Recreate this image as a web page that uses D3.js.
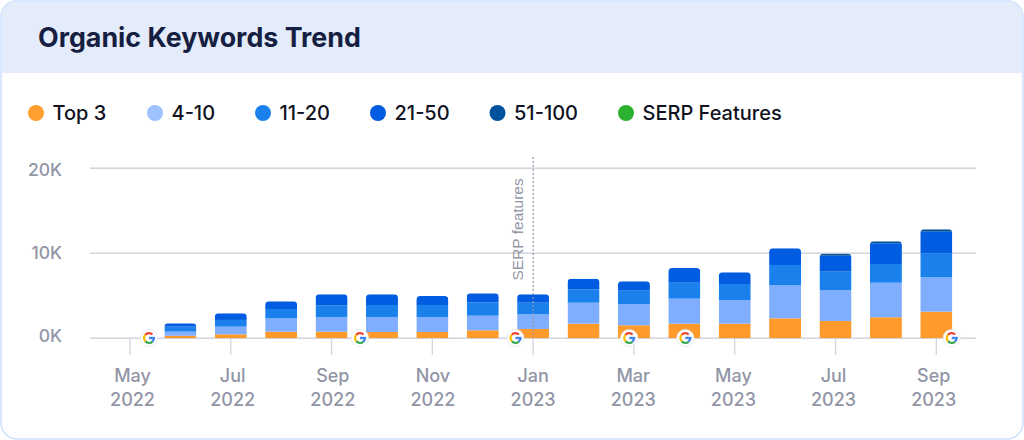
<!DOCTYPE html>
<html><head><meta charset="utf-8">
<script src="https://cdn.jsdelivr.net/npm/d3@7"></script>
<style>html,body{margin:0;padding:0;background:#fff;overflow:hidden}svg{display:block}text{font-family:Inter,"Noto Sans",sans-serif}</style>
</head><body><svg id="c" width="1024" height="440"></svg>
<script>
const months=["May 2022","Jun 2022","Jul 2022","Aug 2022","Sep 2022","Oct 2022","Nov 2022","Dec 2022","Jan 2023","Feb 2023","Mar 2023","Apr 2023","May 2023","Jun 2023","Jul 2023","Aug 2023","Sep 2023"];
const seriesNames=["Top 3","4-10","11-20","21-50","51-100"];
const top3=[0,300,470,780,780,745,745,940,1095,1720,1530,1720,1720,2350,2040,2470,3130];
const pos4to10=[0,490,900,1570,1730,1765,1765,1720,1725,2470,2505,2940,2785,3885,3610,4070,4045];
const pos11to20=[0,580,790,1100,1370,1410,1410,1575,1370,1575,1565,1880,1885,2390,2190,2200,2825];
const pos21to50=[0,390,780,900,1300,1260,1060,1055,990,1245,1105,1730,1375,1965,1880,2435,2540];
const pos51to100=[0,0,0,0,0,0,0,0,0,0,0,0,0,0,240,235,285];
const seriesValues=[top3,pos4to10,pos11to20,pos21to50,pos51to100];
const seriesColors=["#ff9a2b","#80aeff","#1a80eb","#005ce0","#00519e"];
const legendNames=[...seriesNames,"SERP Features"];
const legendColors=["#ff9f2e","#9cc2ff","#1a80eb","#005ce0","#00519e","#2bb02f"];
const legendX=[36,155,263,378,497.5,626];
const yTicks=[0,10000,20000];
const xTickMonths=months.filter((d,i)=>i%2===0);
const googleMonths=["May 2022","Oct 2022","Jan 2023","Mar 2023","Apr 2023","Sep 2023"];
const googleOffsets=[19,-22,-17.7,-4.75,1,15.4];

const svg=d3.select("#c");
svg.append("path").attr("d","M1,17a16,16 0 0 1 16,-16H1007a16,16 0 0 1 16,16V423a16,16 0 0 1 -16,16H17a16,16 0 0 1 -16,-16Z").attr("fill","#fff").attr("stroke","#cde0ff").attr("stroke-width",1.5);
svg.append("path").attr("d","M1.7,73V17a15.3,15.3 0 0 1 15.3,-15.3H1007a15.3,15.3 0 0 1 15.3,15.3V73Z").attr("fill","#e4ecfb");
svg.append("text").attr("x",38).attr("y",46.7).attr("font-size",26.8).attr("font-weight",700).attr("fill","#161f42").text("Organic Keywords Trend");

const lg=svg.selectAll("g.lg").data(legendNames).join("g").attr("class","lg").attr("transform",(d,i)=>`translate(${legendX[i]},113)`);
lg.append("circle").attr("r",8).attr("fill",(d,i)=>legendColors[i]);
lg.append("text").attr("x",16.5).attr("y",7).attr("font-size",20).attr("font-weight",500).attr("fill","#10131f").text(d=>d);

const x=d3.scalePoint().domain(months).range([130,936.3]);
const xLabel=d3.scalePoint().domain(months).range([132.5,933.7]);
const y=d3.scaleLinear().domain([0,20000]).range([338.3,168.3]);
const yLabel=d3.scaleLinear().domain([0,20000]).range([341.7,176]);
const grid="#d2d4de", muted="#9195a6";

svg.append("g").selectAll("line").data(yTicks).join("line").attr("x1",90).attr("x2",976).attr("y1",d=>y(d)).attr("y2",d=>y(d)).attr("stroke",grid).attr("stroke-width",1.6);
svg.append("g").selectAll("text").data(yTicks).join("text").attr("x",62).attr("y",d=>yLabel(d)).attr("text-anchor","end").attr("font-size",17.5).attr("font-weight",500).attr("fill",muted).text(d=>(d/1000)+"K");

svg.append("g").selectAll("line").data(xTickMonths).join("line").attr("x1",d=>x(d)).attr("x2",d=>x(d)).attr("y1",338).attr("y2",355).attr("stroke",grid).attr("stroke-width",1.3);
const xl=svg.append("g").selectAll("text").data(xTickMonths).join("text").attr("text-anchor","middle").attr("font-size",18).attr("font-weight",500).attr("fill",muted);
xl.append("tspan").attr("x",d=>xLabel(d)).attr("y",381.7).text(d=>d.split(" ")[0]);
xl.append("tspan").attr("x",d=>xLabel(d)).attr("y",405.7).text(d=>d.split(" ")[1]);

const stack=d3.stack().keys(seriesNames.map((d,i)=>i)).value((m,k)=>seriesValues[k][months.indexOf(m)]);
const layers=stack(months);
const bw=32;
const tops=months.map((m,i)=>d3.sum(seriesValues,s=>s[i]));
const defs=svg.append("defs");
months.forEach((m,i)=>{ if(tops[i]>0) defs.append("clipPath").attr("id","b"+i).append("path").attr("d",`M${x(m)-bw/2},${y(0)}V${y(tops[i])+4}a4,4 0 0 1 4,-4H${x(m)+bw/2-4}a4,4 0 0 1 4,4V${y(0)}Z`);});
layers.forEach((l,k)=>{
 svg.append("g").attr("fill",seriesColors[k]).selectAll("rect").data(l.map((d,i)=>({d,m:months[i],i})).filter(o=>o.d[1]>o.d[0])).join("rect")
 .attr("x",o=>x(o.m)-bw/2).attr("width",bw).attr("y",o=>y(o.d[1])).attr("height",o=>y(o.d[0])-y(o.d[1])).attr("clip-path",o=>`url(#b${o.i})`);
});

const serpMonth="Jan 2023";
svg.append("line").attr("x1",x(serpMonth)).attr("x2",x(serpMonth)).attr("y1",157).attr("y2",338).attr("stroke",muted).attr("stroke-width",1.2).attr("stroke-dasharray","2 2");
svg.append("text").attr("transform",`translate(${x(serpMonth)-9.7},280.5) rotate(-90)`).attr("font-size",15.5).style("font-family","'Liberation Sans',sans-serif").attr("fill",muted).text("SERP features");

const gs=svg.append("g").selectAll("g").data(googleMonths).join("g").attr("transform",(d,i)=>`translate(${x(d)+googleOffsets[i]},338)`);
gs.append("circle").attr("r",8.6).attr("fill","#fff").attr("stroke","#e4e6ec").attr("stroke-width",0.8);
const arc=d3.arc().innerRadius(3.7).outerRadius(6.1);
const gSegments=[["#ea4335",-0.85,0.78],["#fbbc05",-2.35,-0.85],["#34a853",-3.9,-2.35],["#4285f4",1.57,2.38]];
gSegments.forEach(s=>{gs.append("path").attr("fill",s[0]).attr("d",arc({startAngle:s[1],endAngle:s[2]}));});
gs.append("rect").attr("x",0).attr("y",-1.2).attr("width",6.1).attr("height",2.4).attr("fill","#4285f4");
</script></body></html>
